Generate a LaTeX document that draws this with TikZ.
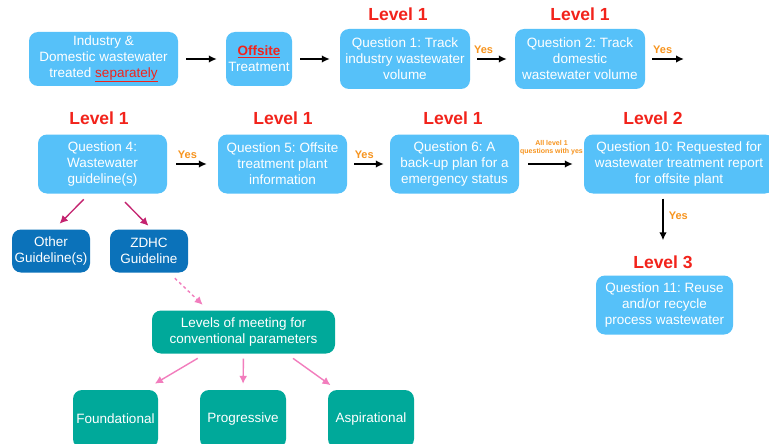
\documentclass[tikz,border=0pt]{standalone}
\usepackage{fontspec}
\setmainfont{Liberation Sans}
\usetikzlibrary{arrows.meta}
\frenchspacing

\definecolor{qblue}{HTML}{56C1F9}
\definecolor{gblue}{HTML}{0B72BA}
\definecolor{mteal}{HTML}{00A99A}
\definecolor{lvred}{HTML}{F2231B}
\definecolor{yesorange}{HTML}{F7941E}
\definecolor{darkpink}{HTML}{C4236F}
\definecolor{lightpink}{HTML}{F27DBD}

\begin{document}
\begin{tikzpicture}[x=1pt, y=1pt,
	box/.style={rounded corners=9pt, text=white, align=center, inner sep=2pt,
		font=\fontsize{13.5}{16}\selectfont},
	qbox/.style={box, fill=qblue},
	gbox/.style={box, fill=gblue},
	tbox/.style={box, fill=mteal},
	level/.style={text=lvred, inner sep=0pt, font=\bfseries\fontsize{17.5}{18}\selectfont},
	yes/.style={text=yesorange, inner sep=1pt, font=\bfseries\fontsize{11}{12}\selectfont},
	arr/.style={line width=1.7pt, -{Latex[length=8pt, width=7.5pt]}},
	garr/.style={darkpink, line width=1.4pt, -{Latex[length=8pt, width=8pt]}},
	parr/.style={lightpink, line width=1.4pt, -{Latex[length=8pt, width=8pt]}}]%[show background grid]

	\clip (0,0) rectangle (769,-444);
	\fill[white] (0,0) rectangle (769,-444);

	\node[qbox, minimum width=149, minimum height=54] (industry) at (103.5,-59)
		{Industry \&\\Domestic wastewater\\treated \textcolor{lvred}{\underline{separately}}};
	\node[qbox, minimum width=66, minimum height=54] (offsite) at (259,-59)
		{\textcolor{lvred}{\textbf{\underline{Offsite}}}\\Treatment};
	\node[qbox, minimum width=130, minimum height=60] (q1) at (405,-59)
		{Question 1: Track\\industry wastewater\\volume};
	\node[qbox, minimum width=130, minimum height=60] (q2) at (580,-59)
		{Question 2: Track\\domestic\\wastewater volume};
	\coordinate (q2out) at (684,-59);

	\node[level] at (398,-14) {Level 1};
	\node[level] at (580,-14) {Level 1};

	\node[qbox, minimum width=129, minimum height=59] (q4) at (102.5,-164)
		{Question 4:\\Wastewater\\guideline(s)};
	\node[qbox, minimum width=129, minimum height=59] (q5) at (282.5,-164)
		{Question 5: Offsite\\treatment plant\\information};
	\node[qbox, minimum width=129, minimum height=59] (q6) at (454.5,-164)
		{Question 6: A\\back-up plan for a\\emergency status};
	\node[qbox, minimum width=190, minimum height=59] (q10) at (679,-164)
		{Question 10: Requested for\\wastewater treatment report\\for offsite plant};

	\node[level] at (99,-118) {Level 1};
	\node[level] at (283,-118) {Level 1};
	\node[level] at (453,-118) {Level 1};
	\node[level] at (653,-118) {Level 2};

	\node[level] (lv3) at (663,-262) {Level 3};
	\node[qbox, minimum width=137, minimum height=59] (q11) at (664.5,-305)
		{Question 11: Reuse\\and/or recycle\\process wastewater};

	\node[gbox, minimum width=78, minimum height=43] (other) at (51,-251)
		{Other\\Guideline(s)};
	\node[gbox, minimum width=78, minimum height=43] (zdhc) at (149,-251)
		{ZDHC\\Guideline};

	\node[tbox, minimum width=183, minimum height=43] (meeting) at (243.5,-332)
		{Levels of meeting for\\conventional parameters};
	\node[tbox, minimum width=85, minimum height=58] (found) at (115.5,-419) {Foundational};
	\node[tbox, minimum width=86, minimum height=58] (prog) at (243,-419) {Progressive};
	\node[tbox, minimum width=86, minimum height=58] (aspir) at (371,-419) {Aspirational};

	\draw[arr, shorten <=8pt, shorten >=9pt] (industry) -- (offsite);
	\draw[arr, shorten <=8pt, shorten >=10pt] (offsite) -- (q1);
	\draw[arr, shorten <=7pt, shorten >=8pt] (q1) -- node[yes, above=4pt, pos=0.3] {Yes} (q2);
	\draw[arr, shorten <=7pt] (q2) -- node[yes, above=4pt, pos=0.45] {Yes} (q2out);

	\draw[arr, shorten <=9pt, shorten >=11pt] (q4) -- node[yes, above=4pt, pos=0.4] {Yes} (q5);
	\draw[arr, shorten <=7pt, shorten >=6pt] (q5) -- node[yes, above=4pt, pos=0.4] {Yes} (q6);
	\draw[arr, shorten <=9pt, shorten >=11pt] (q6) -- node[text=yesorange, above=8pt, inner sep=0pt, align=center,
		font=\bfseries\fontsize{7}{8.5}\selectfont] {All level 1\\questions with yes} (q10);
	\draw[arr, shorten <=5pt, shorten >=15pt] (q10.south -| lv3.north) -- node[yes, right=4pt, pos=0.35] {Yes} (lv3.north);

	\draw[garr, shorten <=8pt, shorten >=8pt] ([xshift=-13pt]q4.south) -- ([xshift=3pt]other.north);
	\draw[garr, shorten <=12pt, shorten >=5pt] ([xshift=14pt]q4.south) -- ([xshift=3pt]zdhc.north);
	\draw[parr, dashed, shorten <=8pt, shorten >=8pt] ([xshift=20pt]zdhc.south) -- ([xshift=-35pt]meeting.north);

	\draw[parr, shorten <=9pt, shorten >=12pt] ([xshift=-38pt]meeting.south) -- ([xshift=29pt]found.north);
	\draw[parr, shorten <=5pt, shorten >=6pt] (meeting.south) -- (prog.north);
	\draw[parr, shorten <=8pt, shorten >=8pt] ([xshift=43pt]meeting.south) -- ([xshift=-34pt]aspir.north);

\end{tikzpicture}
\end{document}
